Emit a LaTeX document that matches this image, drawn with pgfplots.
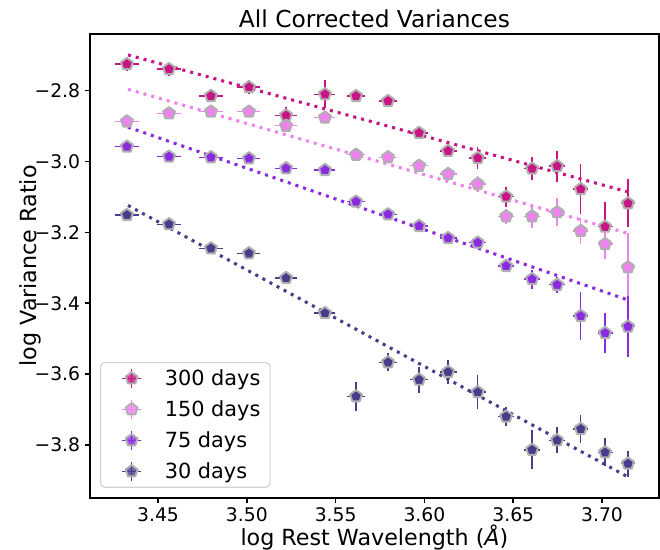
\documentclass[border=0pt]{standalone}
\usepackage{fontspec}
\setmainfont{DejaVu Sans}
\usepackage{pgfplots}
\usepackage{pgfplotstable}
\pgfplotsset{compat=1.18}
\usetikzlibrary{plotmarks}

\definecolor{c300}{RGB}{199,21,133}
\definecolor{c150}{RGB}{238,130,238}
\definecolor{c75}{RGB}{138,43,226}
\definecolor{c30}{RGB}{72,61,139}
\definecolor{medge}{RGB}{176,176,176}
\definecolor{legframe}{RGB}{210,210,210}

\pgfplotstableread{
x       y       ex      ey
3.4325  -2.725  0.0068  0.020
3.4562  -2.739  0.0070  0.020
3.4798  -2.815  0.0068  0.015
3.5012  -2.790  0.0065  0.020
3.5221  -2.870  0.0062  0.024
3.5440  -2.810  0.0059  0.040
3.5615  -2.815  0.0053  0.015
3.5795  -2.829  0.0051  0.015
3.5970  -2.919  0.0049  0.015
3.6133  -2.970  0.0048  0.015
3.6300  -2.990  0.0047  0.031
3.6460  -3.099  0.0045  0.028
3.6606  -3.020  0.0045  0.032
3.6747  -3.013  0.0045  0.044
3.6880  -3.078  0.0042  0.070
3.7017  -3.184  0.0042  0.070
3.7146  -3.118  0.0039  0.068
}\dA
\pgfplotstableread{
x       y       ex      ey
3.4325  -2.887  0.0068  0.015
3.4562  -2.864  0.0070  0.015
3.4798  -2.859  0.0068  0.015
3.5012  -2.859  0.0065  0.015
3.5221  -2.899  0.0062  0.015
3.5440  -2.876  0.0059  0.015
3.5615  -2.981  0.0053  0.015
3.5795  -2.988  0.0051  0.015
3.5970  -3.012  0.0049  0.015
3.6133  -3.035  0.0048  0.020
3.6300  -3.063  0.0047  0.023
3.6460  -3.155  0.0045  0.022
3.6606  -3.155  0.0045  0.033
3.6747  -3.143  0.0045  0.040
3.6880  -3.196  0.0042  0.037
3.7017  -3.233  0.0042  0.042
3.7146  -3.299  0.0039  0.098
}\dB
\pgfplotstableread{
x       y       ex      ey
3.4325  -2.958  0.0068  0.015
3.4562  -2.986  0.0070  0.015
3.4798  -2.988  0.0068  0.015
3.5012  -2.991  0.0065  0.015
3.5221  -3.019  0.0062  0.015
3.5440  -3.024  0.0059  0.015
3.5615  -3.113  0.0053  0.015
3.5795  -3.149  0.0051  0.015
3.5970  -3.182  0.0049  0.015
3.6133  -3.216  0.0048  0.015
3.6300  -3.229  0.0047  0.015
3.6460  -3.295  0.0045  0.015
3.6606  -3.332  0.0045  0.027
3.6747  -3.348  0.0045  0.023
3.6880  -3.436  0.0042  0.068
3.7017  -3.484  0.0042  0.057
3.7146  -3.466  0.0039  0.085
}\dC
\pgfplotstableread{
x       y       ex      ey
3.4325  -3.151  0.0068  0.015
3.4562  -3.177  0.0070  0.015
3.4798  -3.245  0.0068  0.015
3.5012  -3.259  0.0065  0.015
3.5221  -3.329  0.0062  0.015
3.5440  -3.428  0.0059  0.015
3.5615  -3.663  0.0053  0.040
3.5795  -3.567  0.0051  0.025
3.5970  -3.616  0.0049  0.037
3.6133  -3.594  0.0048  0.035
3.6300  -3.651  0.0047  0.048
3.6460  -3.720  0.0045  0.028
3.6606  -3.814  0.0045  0.055
3.6747  -3.787  0.0045  0.037
3.6880  -3.755  0.0042  0.040
3.7017  -3.821  0.0042  0.040
3.7146  -3.853  0.0039  0.037
}\dD

\pgfplotsset{
  errleg/.style={legend image code/.code={
    \path (0pt,0pt) (38.5pt,0pt);
    \draw[#1, line width=1pt] (11pt,0pt) -- (25pt,0pt) (18pt,-7pt) -- (18pt,7pt);
    \draw[##1] plot coordinates {(18pt,0pt)};
  }},
  pts/.style={only marks, color=#1, mark=pentagon*,
    mark size=4.5pt,
    mark options={fill=#1, draw=medge, line width=1.4pt, line join=round, solid},
    error bars/x dir=both, error bars/x explicit,
    error bars/y dir=both, error bars/y explicit,
    error bars/error mark=none,
    error bars/error bar style={line width=1pt, #1, solid},
    errleg=#1},
  fit/.style={forget plot, color=#1, line width=2.2pt, line cap=butt,
    dash pattern=on 2.2pt off 3.6pt, mark=none},
}

\begin{document}
\begin{tikzpicture}
\begin{axis}[
  name=ax,
  width=409.7pt, height=334pt, scale only axis,
  xmin=3.4117, xmax=3.732, ymin=-3.9495, ymax=-2.640,
  axis line style={line width=1.6pt},
  tick pos=left, tick align=outside,
  major tick length=3.6pt,
  tick style={line width=1.1pt, black},
  xtick={3.45,3.50,3.55,3.60,3.65,3.70},
  xticklabels={3.45,3.50,3.55,3.60,3.65,3.70},
  ytick={-3.8,-3.6,-3.4,-3.2,-3.0,-2.8},
  yticklabels={−3.8,−3.6,−3.4,−3.2,−3.0,−2.8},
  ticklabel style={font=\fontsize{13.5}{16}\selectfont},
  title={All Corrected Variances},
  title style={font=\fontsize{16.8}{19}\selectfont, at={(axis description cs:0.5,1)}, anchor=base, yshift=-1.2pt},
  xlabel={log Rest Wavelength (\textit{Å})},
  xlabel style={font=\fontsize{16}{19}\selectfont, at={(axis description cs:0.5,0)}, anchor=base, yshift=-34pt},
  ylabel={log Variance Ratio},
  ylabel style={font=\fontsize{16}{19}\selectfont, at={(axis description cs:-0.1045,0.5)}, anchor=center},
  legend cell align=left,
  legend style={at={(axis description cs:0.0176,0.0216)}, anchor=south west,
    draw=legframe, line width=0.8pt, rounded corners=3pt, fill=white, fill opacity=0.8, text opacity=1,
    font=\fontsize{15}{17}\selectfont, row sep=3.4pt,
    nodes={inner sep=3pt}, inner xsep=4pt},
]
\addplot[pts=c300] table[x=x, y=y, x error=ex, y error=ey] {\dA};
\addlegendentry{300 days}
\addplot[fit=c300] coordinates {(3.4331,-2.699) (3.7140,-3.085)};
\addplot[pts=c150] table[x=x, y=y, x error=ex, y error=ey] {\dB};
\addlegendentry{150 days}
\addplot[fit=c150] coordinates {(3.4331,-2.796) (3.7140,-3.202)};
\addplot[pts=c75] table[x=x, y=y, x error=ex, y error=ey] {\dC};
\addlegendentry{75 days}
\addplot[fit=c75] coordinates {(3.4331,-2.903) (3.7140,-3.390)};
\addplot[pts=c30] table[x=x, y=y, x error=ex, y error=ey] {\dD};
\addlegendentry{30 days}
\addplot[fit=c30] coordinates {(3.4331,-3.124) (3.7140,-3.889)};
\end{axis}
\pgfresetboundingbox
\path[use as bounding box] ([xshift=-64.8pt,yshift=-37.4pt]ax.south west) rectangle ([xshift=0.8pt,yshift=24.5pt]ax.north east);
\end{tikzpicture}
\end{document}
